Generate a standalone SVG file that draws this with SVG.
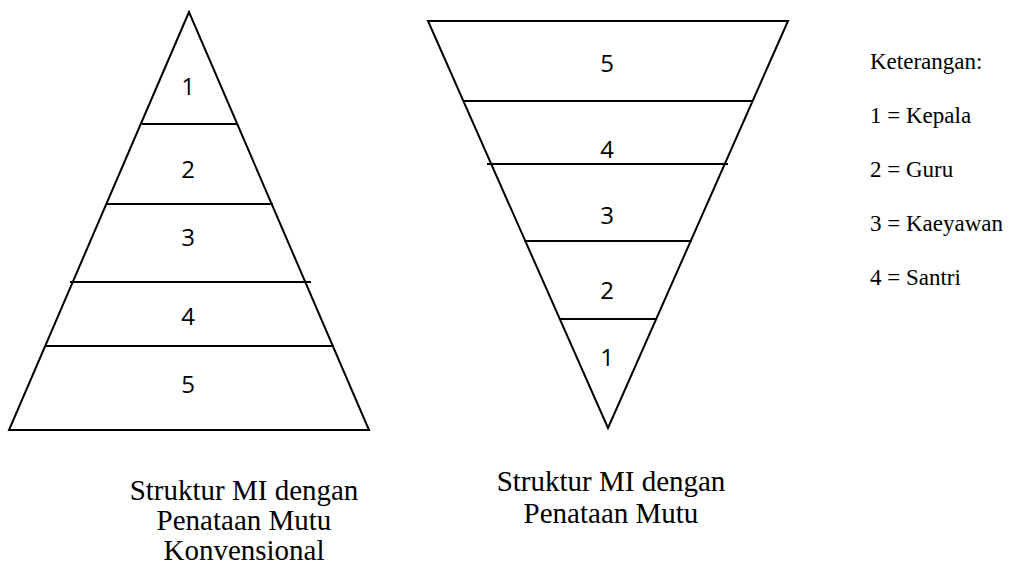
<svg xmlns="http://www.w3.org/2000/svg" width="1011" height="567" viewBox="0 0 1011 567">
<style>
.ln{stroke:#000;stroke-width:2;fill:none;stroke-linejoin:miter}
.num{font-family:"Open Sans","Liberation Sans",sans-serif;font-size:24px;fill:#000;text-anchor:middle}
.cap{font-family:"Liberation Serif","Times New Roman",serif;font-size:29px;fill:#000;text-anchor:middle}
.leg{font-family:"Liberation Serif","Times New Roman",serif;font-size:23px;fill:#000}
</style>
<rect width="1011" height="567" fill="#fff"/>
<g id="pyramid-konvensional">
<polygon class="ln" points="189,12 9,430 369,430"/>
<line class="ln" x1="142" y1="124" x2="237" y2="124"/>
<line class="ln" x1="106" y1="204" x2="273" y2="204"/>
<line class="ln" x1="70" y1="282" x2="311" y2="282"/>
<line class="ln" x1="45" y1="346" x2="334" y2="346"/>
<text class="num" x="188" y="95">1</text>
<text class="num" x="188" y="178">2</text>
<text class="num" x="188" y="246">3</text>
<text class="num" x="188" y="325">4</text>
<text class="num" x="188" y="393">5</text>
</g>
<g id="pyramid-mutu">
<polygon class="ln" points="428,21 788,21 608,428"/>
<line class="ln" x1="464" y1="101" x2="752" y2="101"/>
<line class="ln" x1="487" y1="164" x2="728" y2="164"/>
<line class="ln" x1="524" y1="241" x2="692" y2="241"/>
<line class="ln" x1="560" y1="319" x2="657" y2="319"/>
<text class="num" x="607" y="72">5</text>
<text class="num" x="607" y="158">4</text>
<text class="num" x="607" y="224">3</text>
<text class="num" x="607" y="299">2</text>
<text class="num" x="607" y="366">1</text>
</g>
<g id="caption-left">
<text class="cap" x="244" y="500">Struktur MI dengan</text>
<text class="cap" x="244" y="530">Penataan Mutu</text>
<text class="cap" x="244" y="560">Konvensional</text>
</g>
<g id="caption-right">
<text class="cap" x="611" y="491">Struktur MI dengan</text>
<text class="cap" x="611" y="523">Penataan Mutu</text>
</g>
<g id="legend">
<text class="leg" x="870" y="69">Keterangan:</text>
<text class="leg" x="870" y="123">1 = Kepala</text>
<text class="leg" x="870" y="177">2 = Guru</text>
<text class="leg" x="870" y="231">3 = Kaeyawan</text>
<text class="leg" x="870" y="285">4 = Santri</text>
</g>
<g id="connectors"></g>
</svg>
